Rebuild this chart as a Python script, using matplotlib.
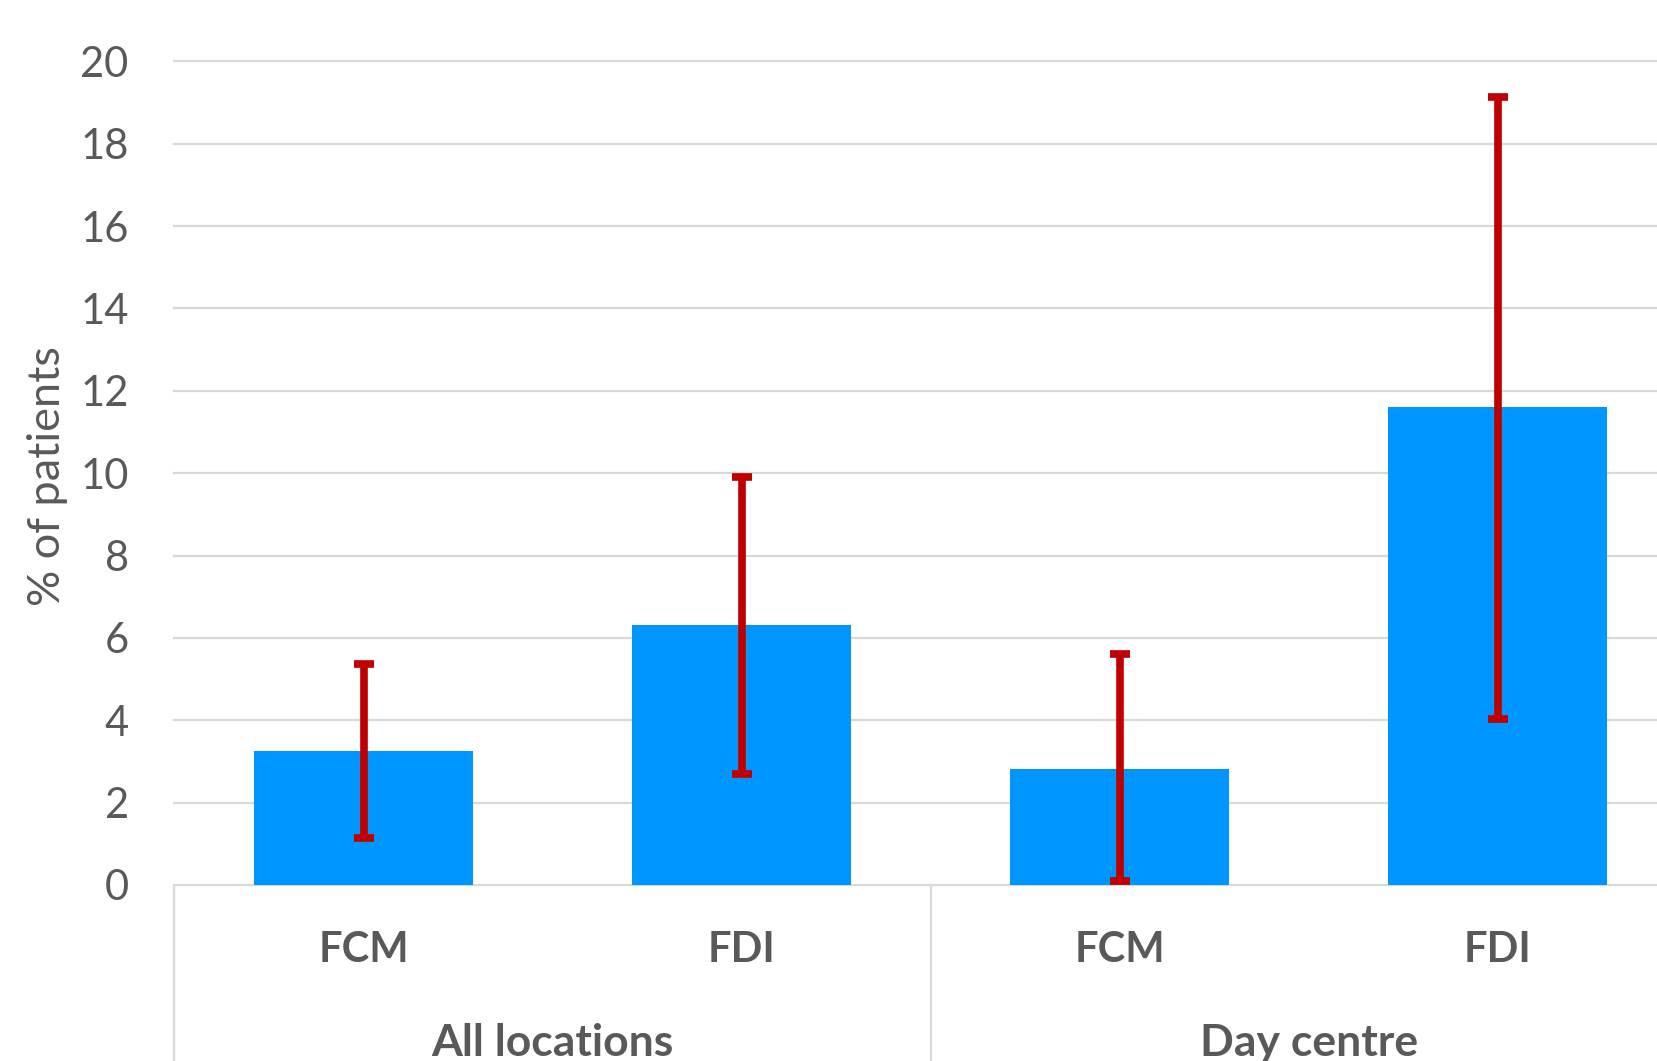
import matplotlib.pyplot as plt
import matplotlib.transforms as mtransforms

# data
groups = ["All locations", "Day centre"]
treatments = ["FCM", "FDI", "FCM", "FDI"]
pct = [3.26, 6.32, 2.82, 11.6]
ci_low = [1.13, 2.70, 0.10, 4.03]
ci_high = [5.37, 9.91, 5.60, 19.13]
yticks = [0, 2, 4, 6, 8, 10, 12, 14, 16, 18, 20]

bar_color = "#0096FF"
err_color = "#C00000"
text_color = "#595959"
grid_color = "#D9D9D9"

plt.rcParams['font.family'] = ['Lato', 'DejaVu Sans']

W, H = 1658, 1061
fig = plt.figure(figsize=(W / 100, H / 100), dpi=100)
# plot area: left 174.5px, top 61.3px, baseline 885px; right edge runs past the picture
left, top, base, right = 174.5, 61.3, 885.0, 1686.6
ax = fig.add_axes([left / W, (H - base) / H, (right - left) / W, (base - top) / H])

x = list(range(len(pct)))
ax.bar(x, pct, width=0.58, color=bar_color, zorder=2)

lower = [p - lo for p, lo in zip(pct, ci_low)]
upper = [hi - p for p, hi in zip(pct, ci_high)]
ax.errorbar(x, pct, yerr=[lower, upper], fmt='none', ecolor=err_color,
            elinewidth=5.5, capsize=7.5, capthick=5.5, zorder=3)

ax.set_xlim(-0.5, len(pct) - 0.5)
ax.set_ylim(0, 20)
ax.set_yticks(yticks)
ax.set_yticklabels([str(t) for t in yticks])
ax.tick_params(axis='y', length=0, pad=33, labelsize=30, labelcolor=text_color)
ax.set_xticks([])
ax.yaxis.grid(True, color=grid_color, linewidth=1.6, zorder=0)
ax.set_axisbelow(True)
for gl in ax.get_ygridlines():
    gl.set_clip_on(False)
for s in ax.spines.values():
    s.set_visible(False)

trans = mtransforms.blended_transform_factory(ax.transData, ax.transAxes)
depth = -(H - base) / (base - top)

# category separators
for xs in [-0.5, 1.5, 3.5]:
    ax.plot([xs, xs], [0, depth], transform=trans, color=grid_color,
            linewidth=1.6, clip_on=False)

for xi, lab in zip(x, treatments):
    ax.text(xi, -65 / (base - top), lab, transform=trans, ha='center', va='center',
            fontsize=30, fontweight='bold', color=text_color)

for gi, g in enumerate(groups):
    ax.text(gi * 2 + 0.5, -158 / (base - top), g, transform=trans, ha='center',
            va='center', fontsize=32, fontweight='bold', color=text_color)

fig.text(47.6 / W, 1 - 476 / H, "% of patients", rotation=90, ha='center',
         va='center', fontsize=32.5, color=text_color)

fig.savefig("out.png", dpi=100)
